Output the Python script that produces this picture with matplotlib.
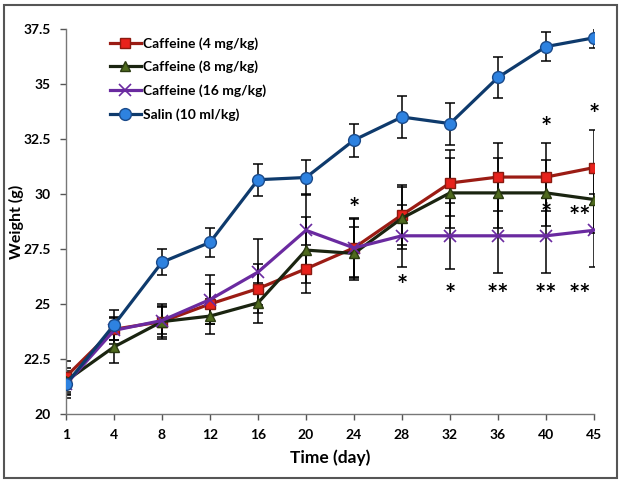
import matplotlib.pyplot as plt
import numpy as np

days = ['1', '4', '8', '12', '16', '20', '24', '28', '32', '36', '40', '45']

caf4 = [21.7, 23.85, 24.2, 25.0, 25.7, 26.6, 27.55, 29.05, 30.5, 30.77, 30.77, 31.2]
caf4_err = [0.7, 0.5, 0.8, 0.9, 1.1, 1.1, 1.35, 1.35, 1.5, 1.55, 1.55, 1.7]

caf8 = [21.5, 23.05, 24.2, 24.45, 25.05, 27.45, 27.3, 28.9, 30.05, 30.05, 30.05, 29.75]
caf8_err = [0.6, 0.75, 0.7, 0.8, 0.9, 1.5, 1.2, 1.4, 1.6, 1.6, 1.5, 1.5]

caf16 = [21.35, 23.8, 24.25, 25.2, 26.45, 28.35, 27.55, 28.1, 28.1, 28.1, 28.1, 28.35]
caf16_err = [0.6, 0.6, 0.6, 1.1, 1.5, 1.65, 1.3, 1.4, 1.5, 1.7, 1.7, 1.65]

salin = [21.35, 24.05, 26.9, 27.8, 30.65, 30.75, 32.45, 33.5, 33.2, 35.3, 36.7, 37.1]
salin_err = [0.5, 0.7, 0.6, 0.65, 0.72, 0.8, 0.75, 0.95, 0.95, 0.95, 0.65, 0.45]

# significance marks: (category index, y value, text)
stars = [(6, 29.3, '*'), (10, 33.0, '*'), (11, 33.6, '*'),
         (10, 29.1, '*'), (10.7, 28.95, '**'),
         (7, 25.8, '*'), (8, 25.4, '*'), (9, 25.4, '**'),
         (10, 25.4, '**'), (10.7, 25.4, '**')]

plt.rcParams['font.family'] = ['Lato', 'DejaVu Sans']
plt.rcParams['font.weight'] = 'bold'

fig = plt.figure(figsize=(6.22, 4.83), dpi=100)
ax = fig.add_axes([66 / 622, 1 - 414 / 483, 528 / 622, 385 / 483])

x = np.arange(len(days))

series = [
    (caf4, caf4_err, 'Caffeine (4 mg/kg)', dict(color='#9B1C14', marker='s', mfc='#E8221C', mec='#8B1A10', ms=7.5)),
    (caf8, caf8_err, 'Caffeine (8 mg/kg)', dict(color='#1A2410', marker='^', mfc='#4F6A1E', mec='#2A3A10', ms=7.5)),
    (caf16, caf16_err, 'Caffeine (16 mg/kg)', dict(color='#6A2AA0', marker='x', mfc='#6A2AA0', mec='#6A2AA0', ms=9, mew=1.2)),
    (salin, salin_err, 'Salin (10 ml/kg)', dict(color='#0E3A6C', marker='o', mfc='#2E82E0', mec='#1A4A8A', ms=8.5)),
]

for vals, err, label, style in series:
    ax.errorbar(x, vals, yerr=err, fmt='none', ecolor='black', elinewidth=1.1,
                capsize=3.5, capthick=1.1, zorder=2)
for vals, err, label, style in series:
    ax.plot(x, vals, lw=2.3, label=label, zorder=3, **style)

for xi, yi, s in stars:
    ax.text(xi, yi, s, ha='center', va='center', fontsize=19, fontweight='bold')

ax.set_xlim(0, len(days) - 1)
ax.set_ylim(20, 37.5)
ax.set_xticks(x)
ax.set_xticklabels(days)
ax.set_yticks([20, 22.5, 25, 27.5, 30, 32.5, 35, 37.5])
ax.set_yticklabels(['20', '22.5', '25', '27.5', '30', '32.5', '35', '37.5'])
ax.tick_params(labelsize=10, length=4, width=1, color='#555555', direction='out', pad=7)
for t in ax.get_xticklabels() + ax.get_yticklabels():
    t.set_fontweight('bold')

for side in ['top', 'right']:
    ax.spines[side].set_visible(False)
for side in ['left', 'bottom']:
    ax.spines[side].set_color('#777777')
    ax.spines[side].set_linewidth(1)

ax.set_xlabel('Time (day)', fontsize=12.5, fontweight='bold', labelpad=6)
ax.set_ylabel('Weight (g)', fontsize=11.5, fontweight='bold', va='center')
ax.yaxis.set_label_coords(-0.094, 0.5)

ax.legend(loc='upper left', bbox_to_anchor=(0.06, 1.012), frameon=False,
          handlelength=2.2, handletextpad=0.15, labelspacing=0.8,
          prop={'weight': 'bold', 'size': 10})

fig.patches.append(plt.Rectangle((4 / 622, 5 / 483), 613 / 622, 473 / 483,
                                 transform=fig.transFigure, fill=False,
                                 edgecolor='#555555', lw=1.5))

fig.savefig('out.png', dpi=100)
